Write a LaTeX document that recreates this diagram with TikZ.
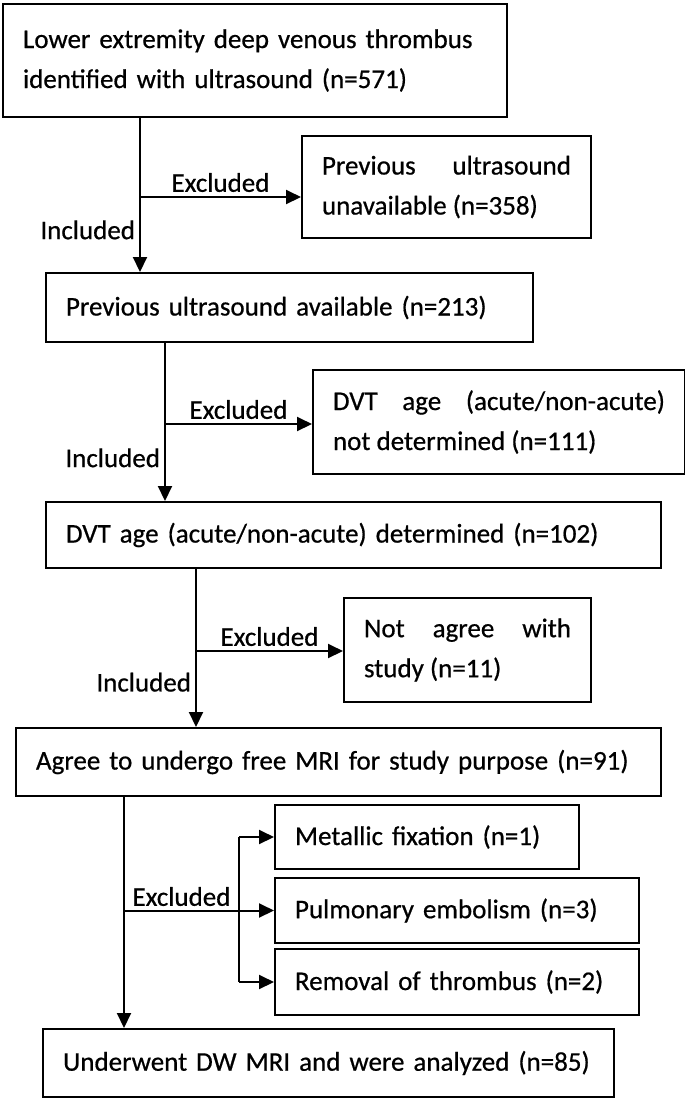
\documentclass[tikz,border=0pt]{standalone}
\usepackage{fontspec}
\setmainfont{Carlito}
\newfontfamily\flowfont{Carlito}[FakeBold=0.6]
\usetikzlibrary{arrows.meta}

\begin{document}
\begin{tikzpicture}[x=0.5pt,y=-0.5pt,
	box/.style={draw, line width=1pt, anchor=north west, inner xsep=10pt, inner ysep=0pt,
		font=\flowfont\fontsize{13.5}{20}\selectfont},
	lbl/.style={font=\flowfont\fontsize{13.5}{16}\selectfont, inner sep=2pt},
	arr/.style={line width=1pt, -{Triangle[length=7.5pt,width=7pt]}},
	link/.style={line width=1pt}]
		\useasboundingbox (0,0) rectangle (685,1100);
		
		%boxes of the main column
		\node[box, minimum height=56.5pt, text width=232pt, align=left] (n571) at (2,3)
			{Lower extremity deep venous thrombus\\identified with ultrasound (n=571)};
		\node[box, minimum height=34.5pt, text width=223.5pt, align=left] (n213) at (45,272)
			{Previous ultrasound available (n=213)};
		\node[box, minimum height=33pt, text width=287.5pt, align=left] (n102) at (45,501)
			{DVT age (acute/non-acute) determined (n=102)};
		\node[box, minimum height=34pt, text width=302.5pt, align=left] (n91) at (15,727)
			{Agree to undergo free MRI for study purpose (n=91)};
		\node[box, minimum height=34pt, text width=265.5pt, align=left] (n85) at (42,1028)
			{Underwent DW MRI and were analyzed (n=85)};
		
		%boxes of the excluded
		\node[box, minimum height=51pt, text width=124.5pt, align=justify] (n358) at (301,135)
			{Previous ultrasound\linebreak unavailable (n=358)};
		\node[box, minimum height=52pt, text width=166pt, align=justify] (n111) at (312,369)
			{DVT age (acute/non-acute)\linebreak not determined (n=111)};
		\node[box, minimum height=52pt, text width=103.5pt, align=justify] (n11) at (343,597)
			{Not agree with\linebreak study (n=11)};
		\node[box, minimum height=32pt, text width=132pt, align=left] (n1) at (274,804)
			{Metallic fixation (n=1)};
		\node[box, minimum height=32.5pt, text width=162pt, align=left] (n3) at (274,877)
			{Pulmonary embolism (n=3)};
		\node[box, minimum height=33pt, text width=162pt, align=left] (n2) at (274,948)
			{Removal of thrombus (n=2)};
		
		%split points
		\coordinate (t1) at (140,116);
		\coordinate (s1) at (140,197);
		\coordinate (t2) at (165,341);
		\coordinate (s2) at (165,424);
		\coordinate (t3) at (196,567);
		\coordinate (s3) at (196,651);
		\coordinate (t4) at (124,795);
		\coordinate (b4) at (239,911);
		
		%included
		\draw[arr] (t1) -- node[lbl, pos=0.73, left] {Included} (t1 |- n213.north);
		\draw[arr] (t2) -- node[lbl, pos=0.73, left] {Included} (t2 |- n102.north);
		\draw[arr] (t3) -- node[lbl, pos=0.72, left] {Included} (t3 |- n91.north);
		\draw[arr] (t4) -- (t4 |- n85.north);
		
		%excluded
		\draw[arr] (s1) -- node[lbl, above] {Excluded} (s1 -| n358.west);
		\draw[arr] (s2) -- node[lbl, above] {Excluded} (s2 -| n111.west);
		\draw[arr] (s3) -- node[lbl, above] {Excluded} (s3 -| n11.west);
		\draw[link] (t4 |- b4) -- node[lbl, above] {Excluded} (b4);
		\draw[link] (b4 |- n1.west) -- (b4 |- n2.west);
		\foreach \n in {n1,n3,n2}
			\draw[arr] (b4 |- \n.west) -- (\n.west);
	
	\end{tikzpicture}
\end{document}
